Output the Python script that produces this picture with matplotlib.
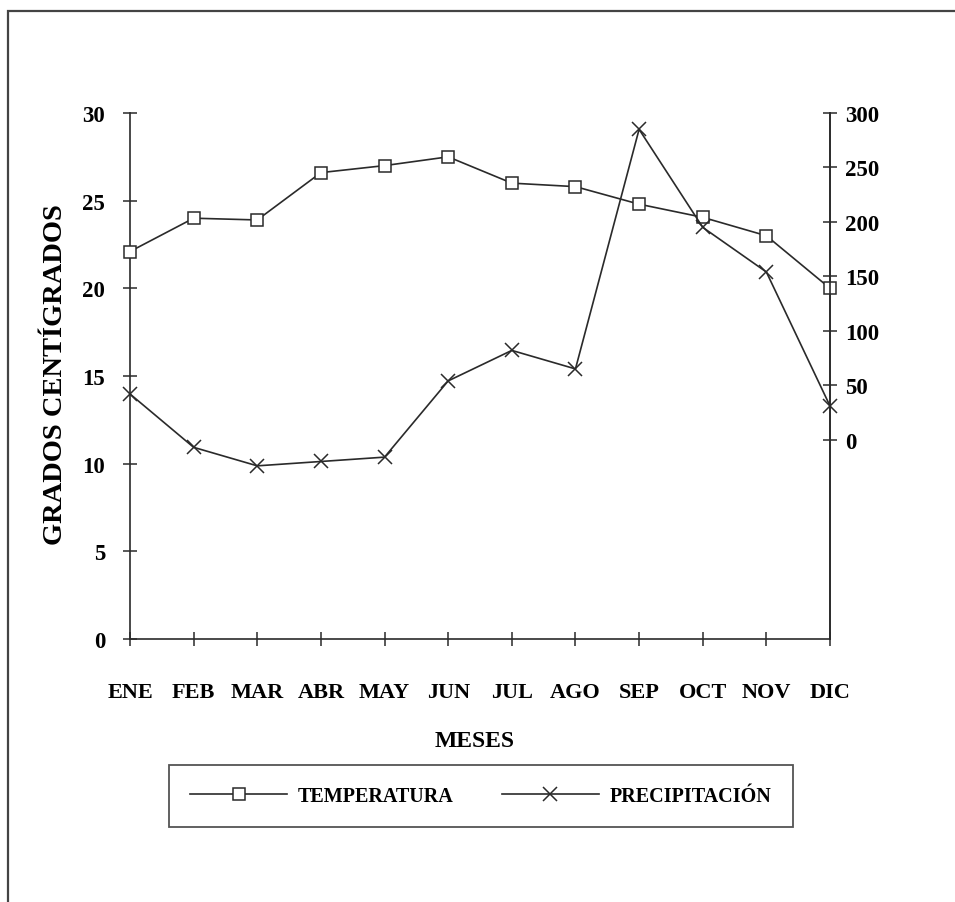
import matplotlib.pyplot as plt
from matplotlib.patches import Rectangle

plt.rcParams['font.family'] = ['Liberation Serif', 'DejaVu Serif']
plt.rcParams['font.weight'] = 'bold'

meses = ['ENE', 'FEB', 'MAR', 'ABR', 'MAY', 'JUN', 'JUL', 'AGO', 'SEP', 'OCT', 'NOV', 'DIC']
temperatura = [22.1, 24.0, 23.9, 26.6, 27.0, 27.5, 26.0, 25.8, 24.8, 24.05, 23.0, 20.0]
# read against the right-hand scale
precipitacion = [42, -7, -24, -20, -16, 54, 82, 65, 285, 195, 154, 31]
temp_ticks = [0, 5, 10, 15, 20, 25, 30]
prec_ticks = [0, 50, 100, 150, 200, 250, 300]

col = '#2a2a2a'
x = list(range(len(meses)))

fig = plt.figure(figsize=(9.55, 9.03), dpi=100)
ax = fig.add_axes([130/955, 1-640/903, 700/955, 526/903])
ax2 = ax.twinx()

# outer frame (only top and left are visible in the scan)
fig.patches.append(Rectangle((8/955, -0.05), 1.2, 1-12/903+0.05, transform=fig.transFigure,
                             fill=False, edgecolor='#444444', lw=1.6))

l1, = ax.plot(x, temperatura, color=col, lw=1.2, marker='s', ms=9, mfc='white',
              mec=col, mew=1.1, clip_on=False, zorder=5)
l2, = ax2.plot(x, precipitacion, color=col, lw=1.2, marker='x', ms=10, mew=1.1,
               clip_on=False, zorder=4)

ax.set_xlim(0, 11)
ax.set_ylim(0, 30)
ax2.set_ylim(-183, 300)
ax.set_xticks(x)
ax.set_xticklabels(meses)
ax.set_yticks(temp_ticks)
ax2.set_yticks(prec_ticks)

for a in (ax, ax2):
    a.spines['top'].set_visible(False)
    for s in a.spines.values():
        s.set_color(col)
        s.set_linewidth(1.2)
ax2.spines['left'].set_visible(False)
ax2.spines['bottom'].set_visible(False)

ax.tick_params(axis='y', direction='inout', length=10, width=1.1, color=col, pad=13, labelsize=16.5)
ax.tick_params(axis='x', direction='inout', length=10, width=1.1, color=col, pad=26, labelsize=16)
ax2.tick_params(axis='y', direction='inout', length=10, width=1.1, color=col, pad=6, labelsize=16.5)
for lab in ax.get_xticklabels() + ax.get_yticklabels() + ax2.get_yticklabels():
    lab.set_fontweight('bold')

fig.text(55/955, 1-375/903, 'GRADOS CENTÍGRADOS', rotation=90, ha='center', va='center',
         fontsize=20.5, fontweight='bold')
fig.text(475/955, 1-742/903, 'MESES', ha='center', va='center', fontsize=17, fontweight='bold')

leg = fig.legend([l1, l2], ['TEMPERATURA', 'PRECIPITACIÓN'], loc='center',
                 bbox_to_anchor=(481/955, 1-797/903), ncol=2, fancybox=False,
                 frameon=True, edgecolor=col, handlelength=4.8, handletextpad=0.55,
                 columnspacing=2.4, borderpad=1.05, borderaxespad=0,
                 prop={'size': 14.5, 'weight': 'bold'})
leg.get_frame().set_linewidth(1.3)

fig.savefig('out.png', dpi=100, facecolor='white')
